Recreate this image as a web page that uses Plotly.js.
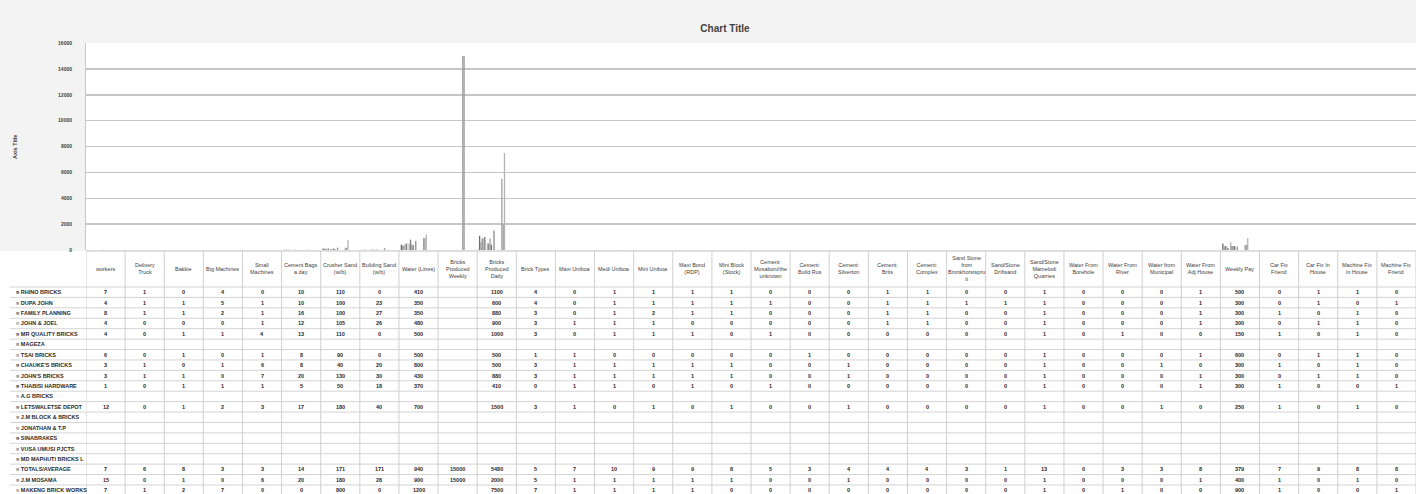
<!DOCTYPE html>
<html>
<head>
<meta charset="utf-8">
<script src="https://cdn.plot.ly/plotly-3.0.1.min.js"></script>
<style>html,body{margin:0;padding:0;background:#f3f3f3;}#chart{width:1416px;height:494px;}</style>
</head>
<body>
<div id="chart"></div>
<script>
// ---- DATA ----
const categories = ['workers','Delivery<br>Truck','Bakkie','Big Machines','Small<br>Machines','Cement Bags<br>a day','Crusher Sand<br>(w/b)','Building Sand<br>(w/b)','Water (Litres)','Bricks<br>Produced<br>Weekly','Bricks<br>Produced<br>Daily','Brick Types','Maxi Uniboa','Medi Uniboa','Mini Uniboa','Maxi Bond<br>(RDP)','Mini Block<br>(Stock)','Cement:<br>Mosaboni/the<br>unknown','Cement:<br>Build Rus','Cement:<br>Silverton','Cement:<br>Brits','Cement:<br>Complex','Sand Stone<br>from<br>Bronkhorstspru<br>it','Sand/Stone<br>Driftsand','Sand/Stone<br>Mamelodi<br>Quarries','Water From<br>Borehole','Water From<br>River','Water from<br>Municipal','Water From<br>Adj House','Weekly Pay','Car Fix<br>Friend','Car Fix In<br>House','Machine Fix<br>in House','Machine Fix<br>Friend'];

const companies = ['RHINO BRICKS','DUPA JOHN','FAMILY PLANNING','JOHN & JOEL','MR QUALITY BRICKS','MAGEZA','TSAI BRICKS',"CHAUKE'S BRICKS","JOHN'S BRICKS",'THABISI HARDWARE','A.G BRICKS','LETSWALETSE DEPOT','J.M BLOCK & BRICKS','JONATHAN & T.P','SINABRAKES','VUSA UMUSI PJCTS','MD MAPHUTI BRICKS L','TOTALS/AVERAGE','J.M MOSAMA','MAKENG BRICK WORKS'];

const rhino      = [7,1,0,4,0,10,110,0,410,null,1100,4,0,1,1,1,1,0,0,0,1,1,0,0,1,0,0,0,1,500,0,1,1,0];
const dupaJohn   = [4,1,1,5,1,10,100,23,350,null,600,4,0,1,1,1,1,1,0,0,1,1,1,1,1,0,0,0,1,300,0,1,0,1];
const familyPl   = [8,1,1,2,1,16,100,27,350,null,880,3,0,1,2,1,1,0,0,0,1,1,0,0,1,0,0,0,1,300,1,0,1,0];
const johnJoel   = [4,0,0,0,1,12,105,26,480,null,900,3,1,1,1,0,0,0,0,0,1,1,0,0,1,0,0,0,1,300,0,1,1,0];
const mrQuality  = [4,0,1,1,4,13,110,0,500,null,1000,3,0,1,1,1,0,1,0,0,0,0,0,0,1,0,1,0,0,150,1,0,1,0];
const mageza     = [];
const tsai       = [6,0,1,0,1,8,90,0,500,null,500,1,1,0,0,0,0,0,1,0,0,0,0,0,1,0,0,0,1,600,0,1,1,0];
const chauke     = [3,1,0,1,6,8,40,20,800,null,500,3,1,1,1,1,1,0,0,1,0,0,0,0,1,0,0,1,0,300,1,0,1,0];
const johns      = [3,1,1,0,7,20,130,30,430,null,880,3,1,1,1,1,1,0,0,1,0,0,0,0,1,0,0,0,1,300,0,1,1,0];
const thabisi    = [1,0,1,1,1,5,50,18,370,null,410,0,1,1,0,1,0,1,0,0,0,0,0,0,1,0,0,0,1,300,1,0,0,1];
const agBricks   = [];
const letswaletse= [12,0,1,2,3,17,180,40,700,null,1500,3,1,0,1,0,1,0,0,1,0,0,0,0,1,0,0,1,0,250,1,0,1,0];
const jmBlock    = [];
const jonathan   = [];
const sinabrakes = [];
const vusa       = [];
const mdMaphuti  = [];
const totals     = [7,6,8,3,3,14,171,171,940,15000,5480,5,7,10,9,9,8,5,3,4,4,4,3,1,13,0,3,3,8,379,7,9,8,8];
const jmMosama   = [15,0,1,0,6,20,180,28,900,15000,2000,5,1,1,1,1,1,0,0,1,0,0,0,0,1,0,0,0,1,400,1,0,1,0];
const makeng     = [7,1,2,7,0,0,800,0,1200,null,7500,7,1,1,1,1,0,0,0,0,0,0,0,0,1,0,1,0,0,900,1,0,0,1];

const seriesValues = [rhino,dupaJohn,familyPl,johnJoel,mrQuality,mageza,tsai,chauke,johns,thabisi,agBricks,letswaletse,jmBlock,jonathan,sinabrakes,vusa,mdMaphuti,totals,jmMosama,makeng];

// ---- STYLE ----
const greys = ['#6f6f6f','#a3a3a3','#8a8a8a','#bcbcbc','#7c7c7c','#999999','#b1b1b1','#838383','#a0a0a0','#737373','#c0c0c0','#8d8d8d','#9e9e9e','#b0b0b0','#7a7a7a','#a8a8a8','#919191','#a2a2a2','#9a9a9a','#b4b4b4'];
const W = 1416, H = 494;
const plotTop = 43, plotBot = 250, leftPx = 86;
const headerBot = 287, rowH = 10.42;
const off = 0.38;
const py = px => 1 - px / H;
const nCat = categories.length;

const traces = companies.map((name, s) => ({
  type: 'bar',
  name: name,
  x: categories,
  y: categories.map((c, i) => (seriesValues[s][i] === undefined ? null : seriesValues[s][i])),
  marker: {color: greys[s], line: {width: 0}},
  hoverinfo: 'name+y'
}));

const fam = 'Liberation Sans, Arial, sans-serif';
const hfont = {family: fam, size: 5.5, color: '#404040'};
const tfont = {family: fam, size: 5.5, color: '#2a2a2a', weight: 'bold'};
const annotations = [];
const shapes = [];

shapes.push({type:'rect', xref:'paper', yref:'paper', x0:0, x1:1, y0:0, y1:py(plotBot+1), fillcolor:'#ffffff', line:{width:0}, layer:'below'});

categories.forEach((c, i) => {
  annotations.push({xref:'x', yref:'paper', x: i + 0.5 - off, y: py((plotBot + headerBot) / 2), text: c,
    showarrow:false, font: hfont, xanchor:'center', yanchor:'middle', align:'center'});
});
companies.forEach((name, r) => {
  const yc = py(headerBot + (r + 0.5) * rowH);
  annotations.push({xref:'paper', yref:'paper', x: 14 / W, y: yc,
    text: '<span style="color:' + greys[r] + '">■</span> ' + name,
    showarrow:false, font: tfont, xanchor:'left', yanchor:'middle'});
  seriesValues[r].forEach((v, i) => {
    if (v === null || v === undefined) return;
    annotations.push({xref:'x', yref:'paper', x: i + 0.5 - off, y: yc, text: String(v),
      showarrow:false, font: tfont, xanchor:'center', yanchor:'middle'});
  });
});
for (let r = 0; r <= companies.length; r++) {
  const yy = py(headerBot + r * rowH);
  shapes.push({type:'line', xref:'paper', yref:'paper', x0: 10 / W, x1: 1, y0: yy, y1: yy, line:{color:'#d4d4d4', width:1}});
}
shapes.push({type:'line', xref:'paper', yref:'paper', x0: leftPx / W, x1: 1, y0: py(plotBot + 1), y1: py(plotBot + 1), line:{color:'#c4c4c4', width:1}});
for (let i = 0; i <= nCat; i++) {
  shapes.push({type:'line', xref:'x', yref:'paper', x0: i - off, x1: i - off, y0: 0, y1: py(plotBot + 1), line:{color:'#d0d0d0', width:1}});
}
annotations.push({xref:'paper', yref:'paper', x: 15 / W, y: py(147), text:'<b>Axis Title</b>', textangle:-90,
  showarrow:false, font:{family:fam, size:5.5, color:'#404040'}, xanchor:'center', yanchor:'middle'});

const layout = {
  width: W, height: H,
  margin: {l:0, r:0, t:0, b:0, pad:0},
  paper_bgcolor: '#f3f3f3',
  plot_bgcolor: '#ffffff',
  showlegend: false,
  barmode: 'group',
  bargap: 0.33,
  bargroupgap: 0,
  title: {text:'<b>Chart Title</b>', x: 725 / W, y: py(28), xanchor:'center', yanchor:'middle',
          font:{family:fam, size:10, color:'#404040'}},
  xaxis: {domain:[leftPx / W, 1], range:[-off, nCat - off], type:'category', showticklabels:false,
          showgrid:false, zeroline:false, showline:false, ticks:''},
  yaxis: {domain:[py(plotBot), py(plotTop)], range:[0, 16000], dtick:2000, tickformat:'d',
          gridcolor:'#c6c6c6', gridwidth:1.5, zeroline:false, showline:true, linecolor:'#c8c8c8', linewidth:1,
          ticks:'', ticklabelstandoff: 12,
          tickfont:{family:fam, size:5, color:'#404040', weight:'bold'}},
  annotations: annotations,
  shapes: shapes
};

Plotly.newPlot('chart', traces, layout, {displayModeBar:false, staticPlot:true});
</script>
</body>
</html>
